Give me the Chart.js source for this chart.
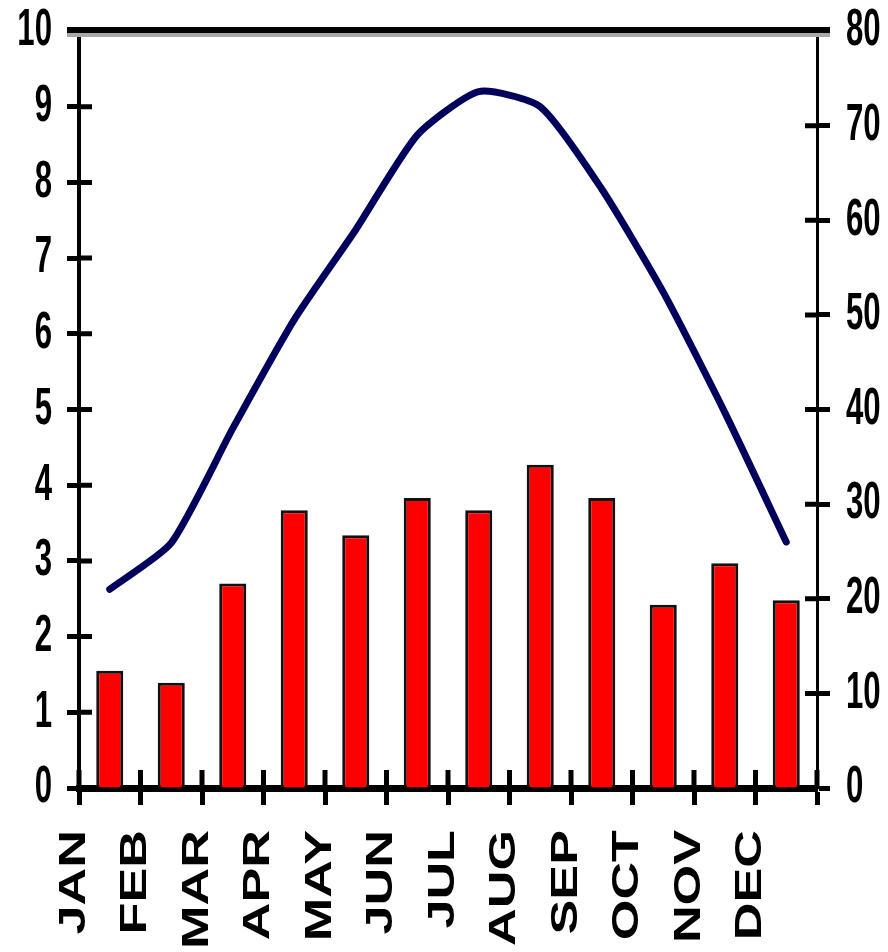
<!DOCTYPE html>
<html>
<head>
<meta charset="utf-8">
<script src="https://cdn.jsdelivr.net/npm/chart.js@4.4.1/dist/chart.umd.min.js"></script>
<style>
html,body{margin:0;padding:0;background:#ffffff;}
#wrap{width:888px;height:952px;position:relative;}
</style>
</head>
<body>
<div id="wrap"><canvas id="c" width="888" height="952"></canvas></div>
<script>
// ---- data ----
const months = ['JAN','FEB','MAR','APR','MAY','JUN','JUL','AUG','SEP','OCT','NOV','DEC'];
const precipitation = [1.55, 1.39, 2.70, 3.67, 3.34, 3.83, 3.67, 4.27, 3.83, 2.42, 2.97, 2.48];
const temperature = [21, 25.9, 38, 49.5, 59, 69, 73.6, 72, 63.3, 52.4, 39.7, 26];
const boundaryLabels = months.concat(['']);
const leftMin = 0, leftMax = 10, leftStep = 1;
const rightMin = 0, rightMax = 80, rightStep = 10;

const FONT = "'Liberation Sans', Arial, sans-serif";

function patchLabels(scale, fn) {
  if (scale._patchedLabels) return;
  scale._patchedLabels = true;
  scale._computeLabelArea = function () { return undefined; };
  const orig = Chart.Scale.prototype.drawLabels;
  scale.drawLabels = function (area) {
    const c = this.ctx;
    c.save();
    fn(this, c);
    orig.call(this, area);
    c.restore();
  };
}

const stylePlugin = {
  id: 'stylePlugin',
  afterLayout(chart) {
    const s = chart.scales;
    patchLabels(s.y, (sc, c) => {
      const ax = sc.right - sc.options.grid.tickLength - sc.options.ticks.padding;
      c.translate(ax, 0); c.scale(0.6, 1); c.translate(-ax, 0);
    });
    patchLabels(s.y1, (sc, c) => {
      const ax = sc.left + sc.options.grid.tickLength + sc.options.ticks.padding;
      c.translate(ax, 0); c.scale(0.6, 1); c.translate(-ax, 0);
    });
    patchLabels(s.x2, (sc, c) => {
      const ay = sc.top + sc.options.grid.tickLength + sc.options.ticks.padding;
      c.translate(0, ay); c.scale(1, 1.45); c.translate(0, -ay);
    });
  },
  afterDraw(chart) {
    const c = chart.ctx;
    const a = chart.chartArea;
    const y = chart.scales.y, y1 = chart.scales.y1, x2 = chart.scales.x2;
    c.save();
    // top frame line
    const yTop = y.getPixelForValue(leftMax);
    c.fillStyle = '#000';
    c.fillRect(a.left - 12, yTop - 4, a.right - a.left + 25, 6);
    c.fillStyle = '#a8a8a8';
    c.fillRect(a.left - 12, yTop + 2, a.right - a.left + 25, 4);
    // inner tick marks
    c.strokeStyle = '#000';
    c.lineWidth = 5;
    c.beginPath();
    y.ticks.forEach(t => {
      if (t.value === leftMax) return;
      const py = y.getPixelForValue(t.value);
      c.moveTo(a.left, py); c.lineTo(a.left + 13, py);
    });
    y1.ticks.forEach(t => {
      if (t.value === rightMax) return;
      const py = y1.getPixelForValue(t.value);
      c.moveTo(a.right - 12, py); c.lineTo(a.right, py);
    });
    c.stroke();
    c.lineWidth = 5;
    c.beginPath();
    x2.ticks.forEach((t, i) => {
      const px = x2.getPixelForValue(i);
      c.moveTo(px, a.bottom - 18); c.lineTo(px, a.bottom);
    });
    c.stroke();
    c.restore();
  }
};

function noPad(s) { s.paddingTop = 0; s.paddingBottom = 0; }

const ctx = document.getElementById('c').getContext('2d');
new Chart(ctx, {
  type: 'bar',
  data: {
    labels: months,
    datasets: [
      {
        type: 'line',
        label: 'Temperature',
        data: temperature,
        xAxisID: 'x',
        yAxisID: 'y1',
        borderColor: '#00005c',
        borderWidth: 7,
        pointRadius: 0,
        tension: 0.2,
        borderCapStyle: 'round',
        borderJoinStyle: 'round',
        fill: false,
        order: 0
      },
      {
        type: 'bar',
        label: 'Precipitation',
        data: precipitation,
        xAxisID: 'x',
        yAxisID: 'y',
        backgroundColor: '#ff0000',
        borderColor: '#111111',
        borderWidth: 3,
        borderSkipped: 'bottom',
        categoryPercentage: 1,
        barPercentage: 0.44,
        order: 1
      }
    ]
  },
  options: {
    responsive: false,
    animation: false,
    devicePixelRatio: 1,
    layout: { padding: { top: 31, left: 0, right: 0, bottom: 0 } },
    plugins: { legend: { display: false }, tooltip: { enabled: false } },
    scales: {
      x: { type: 'category', display: false, offset: true },
      x2: {
        type: 'category',
        labels: boundaryLabels,
        position: 'bottom',
        offset: false,
        z: 1,
        grid: { display: true, offset: false, drawOnChartArea: false, drawTicks: true, tickLength: 17, tickWidth: 5, tickColor: '#000' },
        border: { display: true, color: '#000', width: 7 },
        ticks: {
          autoSkip: false, maxRotation: 90, minRotation: 90, padding: 25, labelOffset: -4,
          color: '#000', font: { family: FONT, size: 36, weight: 'bold' }
        },
        afterFit: s => { s.height = 164; s.paddingLeft = 0; s.paddingRight = 0; }
      },
      y: {
        position: 'left',
        min: leftMin, max: leftMax,
        grid: { display: true, drawOnChartArea: false, drawTicks: true, tickLength: 12, tickWidth: 5, tickColor: '#000' },
        border: { display: true, color: '#000', width: 4 },
        ticks: {
          stepSize: leftStep, autoSkip: false, padding: 15,
          color: '#000', font: { family: FONT, size: 52, weight: 'bold' }
        },
        afterFit: s => { s.width = 79; noPad(s); }
      },
      y1: {
        position: 'right',
        min: rightMin, max: rightMax,
        grid: { display: true, drawOnChartArea: false, drawTicks: true, tickLength: 13, tickWidth: 5, tickColor: '#000' },
        border: { display: true, color: '#000', width: 3 },
        ticks: {
          stepSize: rightStep, autoSkip: false, padding: 16,
          color: '#000', font: { family: FONT, size: 52, weight: 'bold' }
        },
        afterFit: s => { s.width = 71; noPad(s); }
      }
    }
  },
  plugins: [stylePlugin]
});
</script>
</body>
</html>
